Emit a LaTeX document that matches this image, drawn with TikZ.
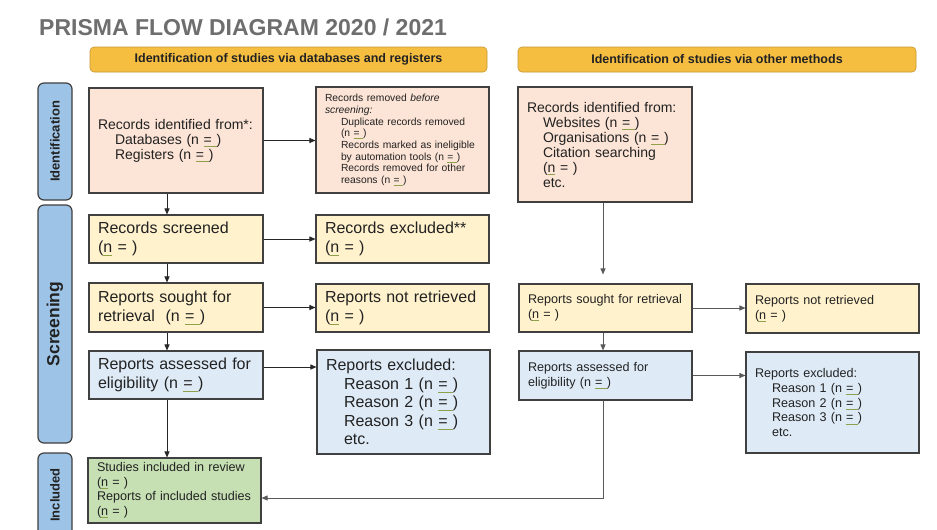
\documentclass[tikz,border=0pt]{standalone}
\usepackage{fontspec}
\setmainfont{Liberation Sans}
\usetikzlibrary{arrows.meta}
\definecolor{peach}{HTML}{FCE4D6}
\definecolor{ylw}{HTML}{FFF2CC}
\definecolor{lblue}{HTML}{DEEBF7}
\definecolor{lgreen}{HTML}{C6E0B4}
\definecolor{hdr}{HTML}{F6BE41}
\definecolor{sidec}{HTML}{9DC3E6}
\definecolor{ttl}{HTML}{6E6E6E}
\definecolor{edgec}{HTML}{404040}
\definecolor{sqc}{HTML}{8FA04A}
\definecolor{txt}{HTML}{222222}
\newcommand\sql[1]{\setbox0=\hbox{#1}\rlap{\color{sqc}\rule[-0.22em]{\wd0}{0.065em}}\box0\relax}
\begin{document}
\begin{tikzpicture}[x=1pt,y=-1pt,
  box/.style={draw=edgec, line width=1.1pt, rectangle, inner xsep=9pt, inner ysep=0pt, align=left, text=txt},
  hdrbox/.style={draw=hdr!80!black, line width=0.6pt, fill=hdr, rounded corners=4pt, minimum height=25pt, inner sep=0pt, font=\bfseries\fontsize{12.5}{14}\selectfont, text=txt},
  sidebox/.style={draw=edgec, line width=1.2pt, fill=sidec, rounded corners=6pt, rotate=90, minimum height=34pt, inner sep=0pt, text=txt},
  arr/.style={draw=black!85, line width=0.9pt, -{Triangle[length=6pt,width=5pt]}},
  arrg/.style={draw=black!65, line width=0.9pt, -{Triangle[length=6pt,width=5pt]}},
  big/.style={font=\fontsize{16}{19}\selectfont},
  mid/.style={font=\fontsize{14}{15}\selectfont},
  sml/.style={font=\fontsize{12.6}{14.7}\selectfont}
]
\useasboundingbox (0,0) rectangle (937,530);
\clip (0,0) rectangle (937,530);
\fill[white] (0,0) rectangle (937,530);

% title
\node[anchor=base west, inner sep=0pt, text=ttl, font=\bfseries\fontsize{23}{26}\selectfont] (title) at (39,35) {PRISMA FLOW DIAGRAM 2020 / 2021};

% headers
\node[hdrbox, minimum width=397pt] (h1) at (288.5,59.5) {Identification of studies via databases and registers};
\node[hdrbox, minimum width=398pt] (h2) at (717,59.5) {Identification of studies via other methods};

% side labels
\node[sidebox, minimum width=117pt, font=\bfseries\fontsize{13}{15}\selectfont] (sid) at (55,141.5) {Identification};
\node[sidebox, minimum width=238pt, font=\bfseries\fontsize{17.5}{20}\selectfont] (ssc) at (55,324) {Screening};
\node[sidebox, minimum width=84pt, font=\bfseries\fontsize{13}{15}\selectfont] (sin) at (55,495) {Included};

% left column
\node[box, mid, fill=peach, minimum width=174pt, minimum height=105pt, text width=156pt] (ri) at (176,140.5)
 {Records identified from*:\\ \hspace*{17pt}Databases (n \sql{= })\\ \hspace*{17pt}Registers (n \sql{= })};
\node[box, fill=peach, minimum width=173pt, minimum height=106pt, text width=155pt, font=\fontsize{10.3}{11.7}\selectfont] (rr) at (402.5,140)
 {Records removed \textit{before}\\ \textit{screening:}\\
  \hspace*{16pt}Duplicate records removed\\ \hspace*{16pt}(n \sql{= })\\
  \hspace*{16pt}Records marked as ineligible\\ \hspace*{16pt}by automation tools (n \sql{= })\\
  \hspace*{16pt}Records removed for other\\ \hspace*{16pt}reasons (n \sql{= })};
\node[box, big, fill=ylw, minimum width=174pt, minimum height=48pt, text width=156pt] (rs) at (176,239)
 {Records screened\\ (\sql{n} = )};
\node[box, big, fill=ylw, minimum width=173pt, minimum height=48pt, text width=155pt] (rx) at (402.5,239)
 {Records excluded**\\ (\sql{n} = )};
\node[box, big, fill=ylw, minimum width=174pt, minimum height=49pt, text width=156pt] (sr) at (176,307.5)
 {Reports sought for\\ retrieval\ \ (n \sql{= })};
\node[box, big, fill=ylw, minimum width=173pt, minimum height=48pt, text width=155pt] (nr) at (402.5,308)
 {Reports not retrieved\\ (\sql{n} = )};
\node[box, big, fill=lblue, minimum width=174pt, minimum height=48pt, text width=156pt] (ra) at (176,375)
 {Reports assessed for\\ eligibility (n \sql{= })};
\node[box, fill=lblue, minimum width=173pt, minimum height=104pt, text width=155pt, font=\fontsize{16}{18.5}\selectfont] (re) at (403.5,402)
 {Reports excluded:\\ \hspace*{18pt}Reason 1 (n \sql{= })\\ \hspace*{18pt}Reason 2 (n \sql{= })\\ \hspace*{18pt}Reason 3 (n \sql{= })\\ \hspace*{18pt}etc.};
\node[box, fill=lgreen, minimum width=173pt, minimum height=65pt, text width=155pt, font=\fontsize{12.6}{14.5}\selectfont] (si) at (174.5,490.5)
 {Studies included in review\\ (\sql{n} = )\\ Reports of included studies\\ (\sql{n} = )};

% right column
\node[box, mid, fill=peach, minimum width=174pt, minimum height=115pt, text width=156pt] (ori) at (605,144.5)
 {Records identified from:\\ \hspace*{16pt}Websites (n \sql{= })\\ \hspace*{16pt}Organisations (n \sql{= })\\ \hspace*{16pt}Citation searching\\ \hspace*{16pt}(\sql{n} = )\\ \hspace*{16pt}etc.};
\node[box, sml, fill=ylw, minimum width=173pt, minimum height=48pt, text width=155pt] (osr) at (605.5,308)
 {Reports sought for retrieval\\ (\sql{n} = )};
\node[box, sml, fill=ylw, minimum width=173pt, minimum height=49pt, text width=155pt] (onr) at (832.5,308.5)
 {Reports not retrieved\\ (\sql{n} = )};
\node[box, sml, fill=lblue, minimum width=173pt, minimum height=49pt, text width=155pt] (oa) at (605.5,375.5)
 {Reports assessed for\\ eligibility (n \sql{= })};
\node[box, sml, fill=lblue, minimum width=173pt, minimum height=101pt, text width=155pt] (ore) at (832.5,402.5)
 {Reports excluded:\\ \hspace*{17pt}Reason 1 (n \sql{= })\\ \hspace*{17pt}Reason 2 (n \sql{= })\\ \hspace*{17pt}Reason 3 (n \sql{= })\\ \hspace*{17pt}etc.};

% connectors
\coordinate (lx) at (167,0);
\coordinate (rxc) at (603,0);
\coordinate (ay) at (0,367);
\coordinate (turn) at (603,498);
\draw[arr] (ri.south -| lx) -- (rs.north -| lx);
\draw[arr] (rs.south -| lx) -- (sr.north -| lx);
\draw[arr] (sr.south -| lx) -- (ra.north -| lx);
\draw[arr] (ra.south -| lx) -- (si.north -| lx);
\draw[arr] (ri.east) -- (rr.west |- ri.east);
\draw[arr] (rs.east) -- (rx.west |- rs.east);
\draw[arr] (sr.east) -- (nr.west |- sr.east);
\draw[arr] (ra.east |- ay) -- (re.west |- ay);
\draw[arrg, shorten >=9pt] (ori.south -| rxc) -- (osr.north -| rxc);
\draw[arrg] (osr.south -| rxc) -- (oa.north -| rxc);
\draw[arrg] (osr.east) -- (onr.west |- osr.east);
\draw[arrg] (oa.east) -- (ore.west |- oa.east);
\draw[arrg] (oa.south -| turn) -- (turn) -- (turn -| si.east);
\end{tikzpicture}
\end{document}
